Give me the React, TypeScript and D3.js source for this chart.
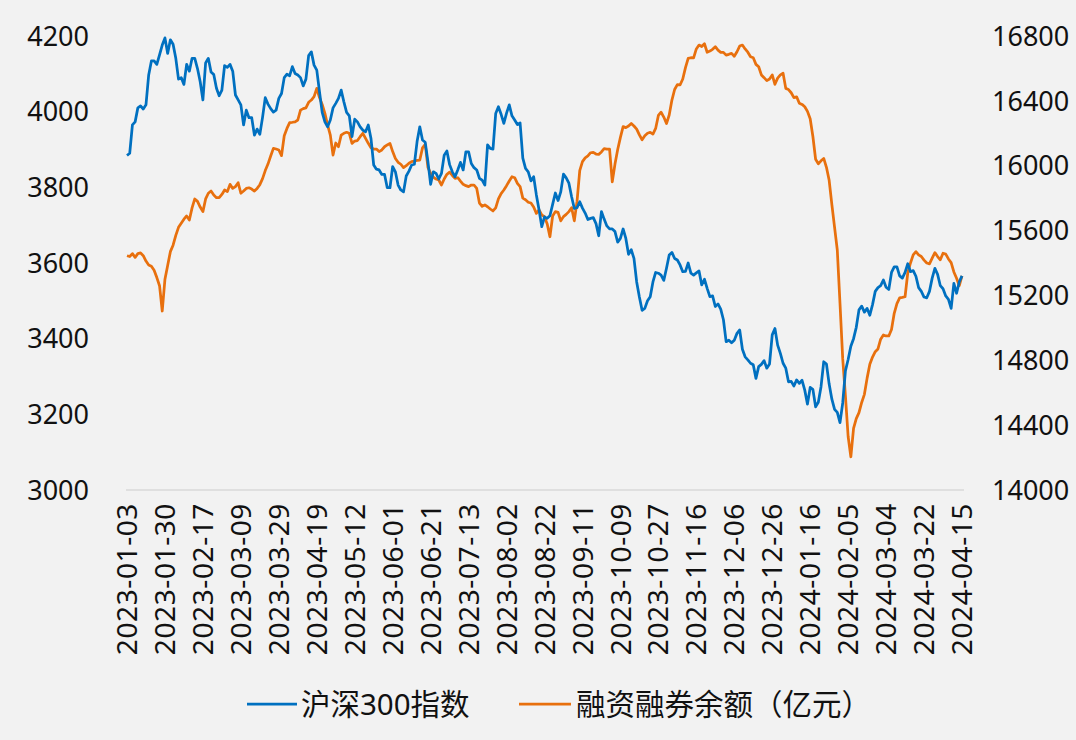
import React from 'react';
import * as d3 from 'd3';

// trading calendar: weekdays minus exchange holidays
const startDate = '2023-01-03';
const endDate = '2024-04-15';
const holidays = [
  '2023-01-23', '2023-01-24', '2023-01-25', '2023-01-26', '2023-01-27',
  '2023-04-05', '2023-05-01', '2023-05-02', '2023-05-03',
  '2023-06-22', '2023-06-23', '2023-09-29',
  '2023-10-02', '2023-10-03', '2023-10-04', '2023-10-05', '2023-10-06',
  '2024-01-01', '2024-02-09', '2024-02-12', '2024-02-13', '2024-02-14',
  '2024-02-15', '2024-02-16', '2024-04-04', '2024-04-05',
];

const tickLabels = [
  '2023-01-03', '2023-01-30', '2023-02-17', '2023-03-09', '2023-03-29', '2023-04-19',
  '2023-05-12', '2023-06-01', '2023-06-21', '2023-07-13', '2023-08-02', '2023-08-22',
  '2023-09-11', '2023-10-09', '2023-10-27', '2023-11-16', '2023-12-06', '2023-12-26',
  '2024-01-16', '2024-02-05', '2024-03-04', '2024-03-22', '2024-04-15',
];

const leftTicks = [3000, 3200, 3400, 3600, 3800, 4000, 4200];
const rightTicks = [14000, 14400, 14800, 15200, 15600, 16000, 16400, 16800];

// 沪深300指数
const hs300 = [
  3884, 3890, 3965, 3973, 4010, 4015, 4007, 4018, 4097, 4134, 4134, 4125, 4150, 4176, 4195, 4154,
  4190, 4178, 4141, 4086, 4090, 4072, 4125, 4107, 4141, 4141, 4114, 4079, 4031, 4129, 4141, 4105,
  4098, 4062, 4042, 4057, 4122, 4117, 4125, 4107, 4044, 4031, 4018, 3965, 4004, 3984, 3984, 3938,
  3954, 3940, 3985, 4037, 4020, 4008, 3999, 4004, 4035, 4048, 4090, 4099, 4095, 4119, 4101, 4097,
  4090, 4068, 4086, 4148, 4158, 4123, 4110, 4053, 3998, 3973, 3960, 3978, 4010, 4022, 4035, 4057,
  4026, 3998, 3989, 3934, 3980, 3973, 3960, 3951, 3947, 3965, 3929, 3859, 3848, 3846, 3834, 3834,
  3799, 3799, 3855, 3841, 3806, 3793, 3788, 3830, 3843, 3859, 3861, 3921, 3960, 3925, 3919, 3868,
  3808, 3841, 3837, 3822, 3837, 3885, 3896, 3860, 3841, 3828, 3846, 3866, 3846, 3894, 3894, 3863,
  3852, 3846, 3824, 3819, 3806, 3912, 3903, 3901, 3995, 4013, 3993, 3969, 3996, 4018, 3989, 3978,
  3966, 3970, 3877, 3850, 3841, 3817, 3828, 3780, 3740, 3696, 3722, 3718, 3725, 3755, 3785, 3765,
  3788, 3835, 3825, 3811, 3775, 3744, 3746, 3762, 3745, 3732, 3715, 3718, 3720, 3704, 3672, 3736,
  3716, 3698, 3690, 3690, 3683, 3655, 3665, 3690, 3665, 3623, 3635, 3612, 3550, 3510, 3475, 3480,
  3500, 3511, 3550, 3575, 3573, 3568, 3554, 3586, 3621, 3628, 3612, 3608, 3595, 3577, 3578, 3600,
  3573, 3568, 3574, 3579, 3542, 3557, 3533, 3511, 3513, 3485, 3492, 3478, 3450, 3392, 3396, 3389,
  3396, 3414, 3423, 3372, 3352, 3344, 3335, 3331, 3295, 3326, 3332, 3342, 3322, 3333, 3410, 3427,
  3383, 3361, 3335, 3322, 3286, 3287, 3275, 3291, 3282, 3290, 3264, 3227, 3271, 3266, 3220, 3232,
  3273, 3339, 3333, 3280, 3240, 3213, 3205, 3178, 3230, 3315, 3345, 3380, 3400, 3430, 3476, 3486,
  3470, 3480, 3462, 3490, 3525, 3535, 3540, 3555, 3536, 3530, 3575, 3590, 3590, 3566, 3560, 3575,
  3598, 3577, 3580, 3565, 3535, 3525, 3510, 3508, 3525, 3560, 3586, 3570, 3540, 3532, 3513, 3504,
  3480, 3546, 3520, 3550, 3566,
];

// 融资融券余额（亿元）
const marginBalance = [
  15445, 15440, 15458, 15435, 15458, 15462, 15445, 15412, 15388, 15380, 15355, 15310, 15260, 15104, 15300, 15385,
  15470, 15510, 15570, 15620, 15645, 15670, 15690, 15665, 15740, 15795, 15780, 15745, 15717, 15795, 15830, 15844,
  15819, 15803, 15803, 15823, 15850, 15840, 15885, 15860, 15871, 15895, 15830, 15844, 15860, 15864, 15856, 15844,
  15860, 15883, 15920, 15970, 16010, 16060, 16107, 16103, 16097, 16062, 16185, 16230, 16266, 16268, 16271, 16282,
  16343, 16352, 16357, 16391, 16405, 16426, 16477, 16420, 16378, 16323, 16251, 16189, 16066, 16140, 16117, 16189,
  16200, 16206, 16200, 16138, 16152, 16155, 16179, 16200, 16169, 16138, 16111, 16103, 16103, 16087, 16097, 16117,
  16128, 16138, 16087, 16045, 16021, 16009, 15988, 16000, 16015, 16025, 16029, 16033, 16035, 16110, 16132, 15990,
  15953, 15930, 15918, 15912, 15881, 15918, 15947, 15960, 15940, 15922, 15926, 15905, 15885, 15877, 15871, 15881,
  15881, 15860, 15770, 15750, 15758, 15747, 15733, 15721, 15740, 15795, 15828, 15850, 15877, 15906, 15932, 15926,
  15891, 15871, 15800, 15790, 15775, 15770, 15745, 15706, 15727, 15696, 15686, 15640, 15562, 15690, 15717, 15712,
  15660, 15686, 15700, 15717, 15741, 15660, 15780, 15970, 16025, 16048, 16060, 16080, 16082, 16072, 16070, 16085,
  16105, 16103, 16103, 15901, 16010, 16100, 16175, 16241, 16235, 16245, 16261, 16245, 16226, 16190, 16160, 16185,
  16200, 16206, 16195, 16230, 16310, 16330, 16300, 16260, 16313, 16405, 16470, 16500, 16498, 16535, 16605, 16662,
  16666, 16665, 16720, 16744, 16735, 16752, 16700, 16707, 16718, 16734, 16713, 16699, 16699, 16682, 16687, 16693,
  16675, 16703, 16738, 16744, 16720, 16700, 16672, 16666, 16625, 16610, 16560, 16543, 16525, 16535, 16560, 16502,
  16540, 16560, 16570, 16477, 16470, 16450, 16420, 16425, 16385, 16378, 16364, 16335, 16290, 16180, 16040, 16012,
  16030, 16045, 15990, 15910, 15760, 15620, 15480, 15150, 14810, 14580, 14330, 14205, 14380, 14440, 14477, 14540,
  14590, 14690, 14775, 14820, 14853, 14870, 14930, 14956, 14950, 14950, 14990, 15090, 15150, 15185, 15188, 15192,
  15340, 15400, 15450, 15470, 15450, 15440, 15418, 15400, 15395, 15430, 15464, 15440, 15420, 15460, 15455, 15425,
  15402, 15345, 15306, 15260, 15320,
];

const fmt = d3.timeFormat('%Y-%m-%d');
const holidaySet = new Set(holidays);
const dates = d3.timeDay
  .range(new Date(startDate + 'T00:00'), d3.timeDay.offset(new Date(endDate + 'T00:00'), 1))
  .filter(d => d.getDay() !== 0 && d.getDay() !== 6 && !holidaySet.has(fmt(d)))
  .map(fmt);

const W = 1076;
const H = 740;
const FONT = '"Noto Sans", "Noto Sans CJK SC", sans-serif';
const BLUE = '#0070C0';
const ORANGE = '#E8700E';

export default function App() {
  const x = d3.scalePoint<string>().domain(dates).range([127, 962]);
  const yL = d3.scaleLinear().domain([3000, 4200]).range([490, 36]);
  const yR = d3.scaleLinear().domain([14000, 16800]).range([490, 36]);

  const lineL = d3.line<number>()
    .x((_, i) => x(dates[i]) as number)
    .y(d => yL(d));
  const lineR = d3.line<number>()
    .x((_, i) => x(dates[i]) as number)
    .y(d => yR(d));

  return (
    <svg width={W} height={H} style={{ position: 'absolute', left: 0, top: 0 }} fontFamily={FONT}>
      <rect width={W} height={H} fill="#f2f2f2" />
      <line x1={126} x2={964} y1={yL(3000)} y2={yL(3000)} stroke="#d9d9d9" strokeWidth={1.5} />

      {leftTicks.map(t => (
        <text key={'l' + t} x={89} y={yL(t)} dy="0.36em" textAnchor="end" fontSize={27} fill="#111">{t}</text>
      ))}
      {rightTicks.map(t => (
        <text key={'r' + t} x={992} y={yR(t)} dy="0.36em" textAnchor="start" fontSize={27} fill="#111">{t}</text>
      ))}
      {tickLabels.map(t => (
        <text key={t} transform={`translate(${x(t)},503) rotate(-90)`} dy="0.36em" textAnchor="end"
          fontSize={28} letterSpacing={0.6} fill="#111">{t}</text>
      ))}

      <path d={lineR(marginBalance) || ''} fill="none" stroke={ORANGE} strokeWidth={2.75} strokeLinejoin="round" />
      <path d={lineL(hs300) || ''} fill="none" stroke={BLUE} strokeWidth={2.75} strokeLinejoin="round" />

      <g>
        <line x1={247} x2={297} y1={704} y2={704} stroke={BLUE} strokeWidth={2.75} />
        <text x={301} y={704} dy="0.36em" fontSize={29.5} fill="#111">沪深300指数</text>
        <line x1={519} x2={571} y1={704} y2={704} stroke={ORANGE} strokeWidth={2.75} />
        <text x={576} y={704} dy="0.36em" fontSize={29.5} fill="#111">融资融券余额（亿元）</text>
      </g>
    </svg>
  );
}
